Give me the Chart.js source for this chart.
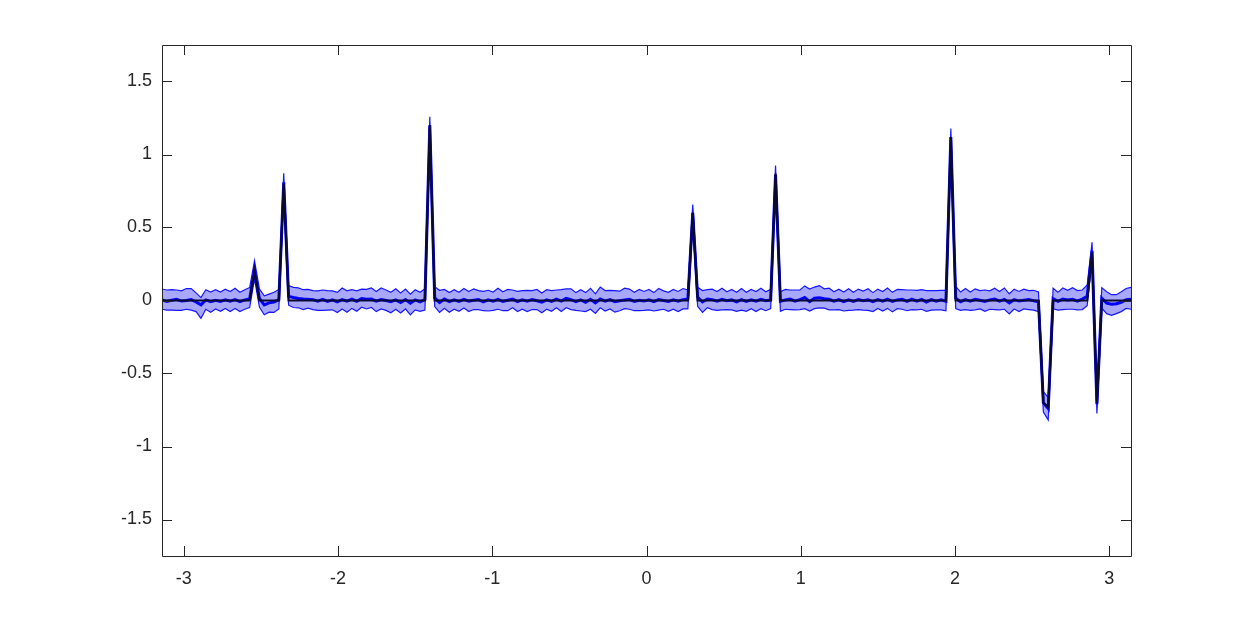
<!DOCTYPE html>
<html>
<head>
<meta charset="utf-8">
<script src="https://cdn.jsdelivr.net/npm/chart.js@4.4.1/dist/chart.umd.min.js"></script>
<style>
html,body{margin:0;padding:0;background:#fff;}
#wrap{width:1250px;height:625px;}
</style>
</head>
<body>
<div id="wrap"><canvas id="c" width="1250" height="625"></canvas></div>
<script>
// sample grid: 200 points from -pi to pi
const nPoints = 200;
const xStart = -Math.PI, xEnd = Math.PI;

// true signal: zero except at these sample indices
const spikeIndex = [19, 25, 55, 109, 126, 162, 181, 182, 191, 192];
const spikeValue = [0.2, 0.8, 1.2, 0.6, 0.87, 1.12, -0.70, -0.73, 0.33, -0.70];

// estimate (thousandths)
const estimate = [
  4,-6,2,8,-4,0,6,-10,-30,4,-8,2,-6,4,-4,6,-8,4,10,210,
  15,-30,-16,-10,6,810,28,20,14,10,8,6,-4,8,-6,4,-10,6,-4,10,
  -6,14,8,10,-4,6,0,-8,4,-14,6,-18,4,-10,6,1200,18,-14,10,-8,
  4,-6,8,-4,2,6,-10,4,-4,8,-6,2,10,-8,4,-4,6,-2,-12,4,
  -6,10,-4,14,6,-8,4,-12,8,-16,10,-4,6,-8,-2,4,8,-6,2,-4,
  4,-8,6,0,-6,4,-4,6,10,600,24,-10,10,6,-4,8,-2,4,-10,6,
  -6,4,-4,8,-2,4,860,-6,4,10,-4,6,20,-8,16,18,12,8,-4,6,
  -8,4,-6,6,-2,4,-8,6,-4,10,-6,4,8,-6,10,-4,8,-10,6,-4,
  4,-6,1120,16,-8,6,-4,8,2,-6,4,10,-4,8,-16,6,-4,2,6,-2,
  -8,-700,-740,12,-6,10,4,8,-4,10,28,340,-710,16,-18,-26,-22,-12,6,8
];

// band half-widths above / below estimate (thousandths)
const upperWidth = [
  75,78,72,64,70,82,76,62,50,70,66,72,64,74,66,78,64,70,78,62,
  64,62,60,66,70,62,74,70,72,64,68,62,70,64,74,62,66,80,70,64,
  72,64,68,76,66,80,72,64,76,66,72,62,70,66,74,58,76,84,66,62,
  70,62,74,66,78,62,72,66,62,76,66,74,62,70,64,74,62,78,64,70,
  74,62,78,66,74,62,70,66,76,62,82,72,64,76,66,80,70,62,74,66,
  72,62,76,66,62,72,66,76,62,58,66,78,64,72,66,76,62,72,66,76,
  62,72,66,76,62,72,64,66,72,62,76,66,80,86,76,84,68,76,64,72,
  66,76,62,72,66,76,62,72,66,76,62,72,66,78,62,74,66,78,62,72,
  66,76,58,80,66,76,62,72,66,78,62,74,66,78,62,72,66,76,62,72,
  66,76,74,72,62,76,66,80,72,62,78,58,62,72,78,66,62,72,76,82
];
const lowerWidth = [
  64,60,68,76,64,60,72,66,92,64,72,60,68,58,72,60,68,64,58,62,
  60,68,64,72,64,62,60,68,64,72,60,68,64,76,60,68,72,64,76,64,
  68,60,66,58,72,64,68,76,64,72,64,80,68,64,72,58,60,68,64,72,
  64,68,60,72,64,68,60,76,64,68,64,72,60,68,64,72,68,60,72,64,
  68,60,72,64,68,60,76,64,68,72,60,68,64,72,68,60,68,64,72,64,
  68,64,72,60,68,64,72,64,68,58,64,72,60,68,64,72,60,68,64,72,
  68,60,72,64,68,60,58,68,64,72,60,68,76,64,72,68,64,72,60,68,
  64,72,60,68,64,72,68,60,68,64,72,60,68,64,72,60,68,64,72,60,
  68,64,58,72,60,68,64,72,60,68,64,72,60,68,76,64,72,60,68,64,
  68,64,78,68,60,72,64,68,60,72,64,58,64,68,72,76,68,64,60,68
];

const xTicks = [-3, -2, -1, 0, 1, 2, 3];
const yTicks = [-1.5, -1, -0.5, 0, 0.5, 1, 1.5];

// build tables
const xs = [];
for (let i = 0; i < nPoints; i++) xs.push(xStart + (xEnd - xStart) * i / (nPoints - 1));
const truth = xs.map(() => 0);
spikeIndex.forEach((k, j) => { truth[k] = spikeValue[j]; });
const truthPts = xs.map((x, i) => ({x, y: truth[i]}));
const estPts = xs.map((x, i) => ({x, y: estimate[i] / 1000}));
const upPts = xs.map((x, i) => ({x, y: (estimate[i] + upperWidth[i]) / 1000}));
const loPts = xs.map((x, i) => ({x, y: (estimate[i] - lowerWidth[i]) / 1000}));

const axisColor = '#262626';
const fontFamily = '"Liberation Sans", Arial, Helvetica, sans-serif';

const boxPlugin = {
  id: 'box',
  afterDatasetsDraw(chart) {
    const {ctx, chartArea: a, scales} = chart;
    ctx.save();
    ctx.strokeStyle = axisColor;
    ctx.lineWidth = 1;
    ctx.beginPath();
    ctx.rect(Math.round(a.left) + 0.5, Math.round(a.top) + 0.5, Math.round(a.right - a.left), Math.round(a.bottom - a.top));
    ctx.stroke();
    const L = 10;
    ctx.beginPath();
    xTicks.forEach(v => {
      const p = Math.round(scales.x.getPixelForValue(v)) + 0.5;
      ctx.moveTo(p, a.bottom); ctx.lineTo(p, a.bottom - L);
      ctx.moveTo(p, a.top); ctx.lineTo(p, a.top + L);
    });
    yTicks.forEach(v => {
      const p = Math.round(scales.y.getPixelForValue(v)) + 0.5;
      ctx.moveTo(a.left, p); ctx.lineTo(a.left + L, p);
      ctx.moveTo(a.right, p); ctx.lineTo(a.right - L, p);
    });
    ctx.stroke();
    ctx.restore();
  }
};

new Chart(document.getElementById('c'), {
  type: 'line',
  data: {
    datasets: [
      {label: 'truth', data: truthPts, borderColor: '#0a0a2e', borderWidth: 2.2, pointRadius: 0, fill: false, order: 0},
      {label: 'estimate', data: estPts, borderColor: '#0000ff', borderWidth: 3, pointRadius: 0, fill: false, order: 1},
      {label: 'upper', data: upPts, borderColor: 'rgba(0,0,255,0.9)', borderWidth: 1.2, pointRadius: 0,
        fill: {target: 3}, backgroundColor: 'rgba(0,0,255,0.34)', order: 2},
      {label: 'lower', data: loPts, borderColor: 'rgba(0,0,255,0.9)', borderWidth: 1.2, pointRadius: 0, fill: false, order: 3}
    ]
  },
  options: {
    responsive: false,
    animation: false,
    events: [],
    layout: {padding: {left: 0, top: 45, right: 119, bottom: 0}},
    elements: {line: {tension: 0, borderJoinStyle: 'miter'}},
    plugins: {legend: {display: false}, tooltip: {enabled: false}},
    scales: {
      x: {
        type: 'linear', min: -Math.PI, max: Math.PI,
        grid: {display: false, drawTicks: false}, border: {display: false},
        afterBuildTicks: s => { s.ticks = xTicks.map(v => ({value: v})); },
        afterFit: s => { s.height = 69; },
        ticks: {color: axisColor, font: {family: fontFamily, size: 18}, padding: 12, maxRotation: 0,
          callback: v => String(v)}
      },
      y: {
        type: 'linear', min: -1.75, max: 1.75,
        grid: {display: false, drawTicks: false}, border: {display: false},
        afterBuildTicks: s => { s.ticks = yTicks.map(v => ({value: v})); },
        afterFit: s => { s.width = 162; },
        ticks: {color: axisColor, font: {family: fontFamily, size: 18}, padding: 10,
          callback: v => String(v)}
      }
    }
  },
  plugins: [boxPlugin]
});
</script>
</body>
</html>
